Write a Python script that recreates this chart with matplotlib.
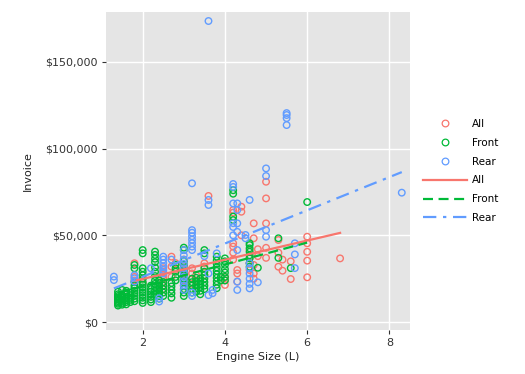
import matplotlib
matplotlib.use("Agg")
import matplotlib.pyplot as plt
from matplotlib.lines import Line2D
from matplotlib.ticker import FuncFormatter
import numpy as np

# ---- data: engine size (L) -> invoice values (thousand $) per drive train ----
all_cols = {
    1.8: [24.0, 26.0, 33.9],
    2.0: [22.5, 25.0],
    2.5: [19.0, 21.0, 23.0, 25.0, 27.0, 29.0, 31.0],
    2.7: [26.0, 32.0, 37.7],
    2.8: [30.0, 34.0],
    3.0: [24.0, 28.0, 30.0, 33.0, 36.0],
    3.2: [22.0, 25.0, 28.0, 31.0],
    3.3: [24.0, 27.0],
    3.5: [27.0, 32.0, 33.9],
    3.6: [72.7],
    4.0: [21.4, 24.0, 26.0],
    4.2: [63.1, 64.6, 43.5, 45.4, 36.0, 40.0],
    4.3: [23.3, 28.0, 30.0],
    4.4: [63.6, 66.5, 50.0],
    4.6: [30.0, 34.0, 37.0, 41.5],
    4.7: [56.9, 48.3, 32.9, 28.0, 25.0],
    4.8: [38.0, 42.0],
    5.0: [80.9, 71.3, 56.9, 42.8, 37.0],
    5.3: [31.9, 47.3, 40.0],
    5.4: [29.6, 36.0],
    5.6: [24.8, 35.0],
    6.0: [49.2, 45.4, 40.5, 35.4, 25.8],
    6.8: [36.7],
}
front_cols = {
    1.4: [9.5, 10.5, 11.2, 12.0, 12.8, 13.5, 14.2, 15.0, 16.0, 17.5],
    1.5: [10.0, 11.0, 12.2, 13.0, 14.0, 15.5, 18.5],
    1.6: [10.2, 11.5, 12.5, 13.5, 14.5, 16.0, 17.0, 18.0],
    1.7: [11.5, 12.8, 14.0, 15.5, 17.0],
    1.8: [12.0, 13.5, 15.0, 16.5, 18.0, 19.5, 21.0, 23.0, 31.0, 32.9],
    2.0: [11.0, 12.5, 14.0, 15.5, 17.0, 18.5, 20.0, 21.5, 23.0, 25.0, 27.0, 29.0, 31.0, 39.6, 41.5],
    2.2: [11.5, 13.0, 14.5, 16.0, 17.5, 19.0, 21.0],
    2.3: [16.0, 18.0, 20.0, 22.0, 24.0, 26.5, 29.0, 31.5, 34.5, 36.5, 38.7, 40.6],
    2.4: [13.5, 15.0, 16.5, 18.0, 19.5, 21.0, 22.5, 24.0],
    2.5: [15.0, 17.0, 19.0, 21.0, 23.0],
    2.7: [14.0, 16.5, 18.5, 20.5, 22.5],
    2.8: [24.0, 26.0, 29.0, 31.0, 33.0],
    3.0: [15.0, 17.0, 19.0, 21.0, 23.0, 25.0, 27.0, 29.0, 31.0, 33.0, 35.0, 41.5, 42.9],
    3.2: [17.0, 19.0, 21.0, 23.0, 25.0],
    3.3: [17.5, 19.5, 21.5, 23.5, 25.5],
    3.4: [16.0, 18.0, 20.0, 22.0, 23.5, 25.0],
    3.5: [19.0, 21.0, 23.0, 25.0, 27.0, 29.0, 31.0, 39.6, 41.5],
    3.8: [19.5, 21.5, 23.5, 25.5, 27.5, 29.5, 31.5, 33.5, 35.5, 37.7],
    3.9: [24.0, 26.0],
    4.0: [24.0, 26.0, 28.5, 30.5, 33.0, 35.0, 36.7],
    4.2: [74.0, 76.0, 58.8, 60.8],
    4.6: [31.9, 33.9, 36.7, 38.5, 40.5, 42.5, 44.4, 45.4],
    4.8: [31.3],
    5.3: [37.0, 48.3],
    5.6: [31.1],
    6.0: [69.2],
}
rear_cols = {
    1.3: [24.2, 26.2],
    1.8: [23.3, 25.2, 27.0],
    2.2: [31.0],
    2.4: [11.8, 13.7],
    2.5: [28.0, 30.0, 32.0, 34.0, 36.0, 37.7],
    2.7: [36.0],
    3.0: [18.5, 21.0, 23.5, 26.0, 28.5, 31.0, 33.5, 36.0, 38.5, 41.5],
    3.2: [15.0, 17.0, 41.5, 43.5, 45.5, 47.5, 49.5, 51.5, 53.0, 80.0],
    3.5: [38.0],
    3.6: [15.5, 28.0, 67.5, 70.4, 173.6],
    3.7: [16.6, 18.5],
    3.8: [39.6],
    4.2: [50.0, 54.8, 57.0, 68.4, 77.9, 79.6],
    4.3: [18.5, 23.3, 41.5, 52.0, 56.9, 64.6, 68.4],
    4.5: [48.3, 50.2],
    4.6: [19.4, 22.0, 25.0, 28.0, 31.0, 33.9, 70.4],
    4.8: [22.9],
    5.0: [49.2, 53.0, 84.2, 88.6],
    5.5: [113.6, 117.6, 119.4, 120.5],
    5.7: [31.1, 39.0, 45.4],
    8.3: [74.6],
}

groups = ["All", "Front", "Rear"]
colors = ["#F8766D", "#00BA38", "#619CFF"]
line_styles = ["-", (0, (4.5, 2.5)), (0, (6, 3, 1.5, 3))]
# linear fit coefficients (invoice $ = intercept + slope * engine)
fit_slope = [5530, 6300, 9580]
fit_intercept = [13800, 8000, 6950]

x_ticks = [2, 4, 6, 8]
y_ticks = [0, 50000, 100000, 150000]


def expand(cols):
    xs, ys = [], []
    for k, vals in cols.items():
        for v in vals:
            xs.append(k)
            ys.append(v * 1000)
    return np.array(xs), np.array(ys)


data = [expand(all_cols), expand(front_cols), expand(rear_cols)]

fig = plt.figure(figsize=(5.25, 3.74), dpi=100)
ax = fig.add_axes([106 / 525, 1 - 330 / 374, 304 / 525, 318 / 374])
ax.set_facecolor("#E5E5E5")
for s in ax.spines.values():
    s.set_visible(False)
ax.grid(True, color="white", linewidth=1.0)
ax.set_axisbelow(True)

handles_pts, handles_lines = [], []
for (xs, ys), name, c, ls, m, b in zip(data, groups, colors, line_styles, fit_slope, fit_intercept):
    ax.scatter(xs, ys, s=22, facecolors="none", edgecolors=c, linewidths=1.0, zorder=3)
    xr = np.array([xs.min(), xs.max()])
    ax.plot(xr, b + m * xr, color=c, linestyle=ls, linewidth=1.6, zorder=4)
    handles_pts.append(Line2D([], [], marker="o", linestyle="none", markerfacecolor="none",
                              markeredgecolor=c, markersize=4.8, markeredgewidth=0.9, label=name))
    handles_lines.append(Line2D([], [], color=c, linestyle=ls, linewidth=1.6, label=name))

ax.set_xlim(1.108, 8.50)
ax.set_ylim(-4600, 178800)
ax.set_xticks(x_ticks)
ax.set_yticks(y_ticks)
ax.yaxis.set_major_formatter(FuncFormatter(lambda v, p: f"${v:,.0f}"))
ax.tick_params(axis="both", length=3, width=0.8, color="#333333", labelsize=8,
               labelcolor="#333333", pad=3)
ax.set_xlabel("Engine Size (L)", fontsize=8, color="#222222", labelpad=3)
ax.set_ylabel("Invoice", fontsize=8, color="#222222", labelpad=9)

fig.legend(handles=handles_pts + handles_lines, loc="center left",
           bbox_to_anchor=(414 / 525, 1 - 171 / 374), frameon=False, fontsize=7.5,
           handlelength=4.2, labelspacing=0.85, handletextpad=0.5)

fig.savefig("out.png", dpi=100)
